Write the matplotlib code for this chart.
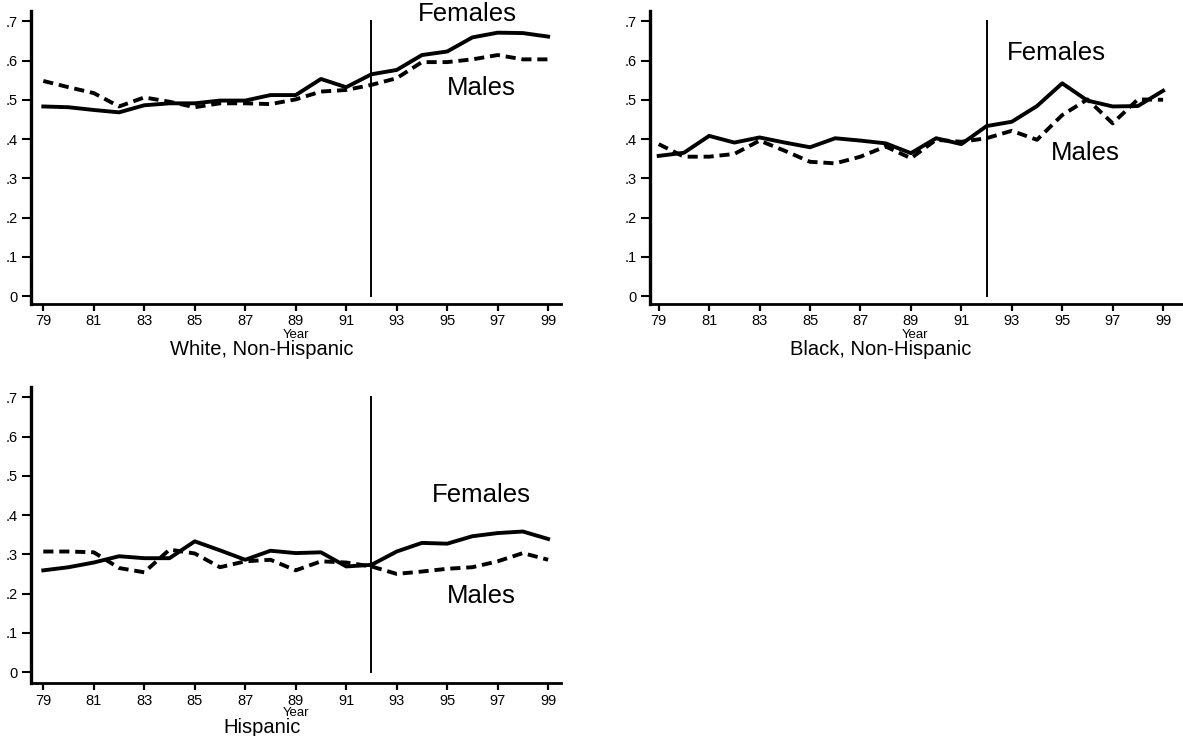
import numpy as np
import matplotlib
matplotlib.use("Agg")
import matplotlib.pyplot as plt

plt.rcParams["font.family"] = ["Liberation Sans", "DejaVu Sans"]

# ------------------------------------------------------------
# Data
# ------------------------------------------------------------
years = list(range(79, 100))
tick_years = list(range(79, 100, 2))
y_ticks = [0, 0.1, 0.2, 0.3, 0.4, 0.5, 0.6, 0.7]
y_tick_labels = ["0", ".1", ".2", ".3", ".4", ".5", ".6", ".7"]
policy_year = 92

white_f = [0.483, 0.481, 0.474, 0.468, 0.486, 0.491, 0.491, 0.498, 0.498, 0.512, 0.512,
           0.553, 0.532, 0.565, 0.576, 0.614, 0.623, 0.659, 0.671, 0.670, 0.661]
white_m = [0.548, 0.532, 0.517, 0.483, 0.506, 0.495, 0.481, 0.491, 0.491, 0.489, 0.501,
           0.521, 0.525, 0.538, 0.555, 0.596, 0.596, 0.603, 0.614, 0.603, 0.603]

black_f = [0.357, 0.365, 0.408, 0.391, 0.404, 0.391, 0.379, 0.402, 0.396, 0.389, 0.364,
           0.402, 0.387, 0.433, 0.444, 0.484, 0.542, 0.498, 0.483, 0.484, 0.523]
black_m = [0.387, 0.355, 0.355, 0.362, 0.396, 0.370, 0.342, 0.338, 0.355, 0.381, 0.351,
           0.398, 0.393, 0.402, 0.421, 0.398, 0.461, 0.501, 0.440, 0.501, 0.500]

hisp_f = [0.259, 0.267, 0.279, 0.295, 0.290, 0.290, 0.333, 0.310, 0.286, 0.309, 0.303,
          0.305, 0.269, 0.273, 0.307, 0.329, 0.327, 0.346, 0.354, 0.358, 0.339]
hisp_m = [0.307, 0.307, 0.305, 0.265, 0.254, 0.312, 0.302, 0.267, 0.282, 0.286, 0.259,
          0.282, 0.279, 0.269, 0.250, 0.256, 0.263, 0.267, 0.282, 0.303, 0.286]

# panel: (caption, females, males, "Females" label pos, "Males" label pos)
panels = [
    ("White, Non-Hispanic", white_f, white_m, (93.85, 0.70), (95.0, 0.512)),
    ("Black, Non-Hispanic", black_f, black_m, (92.8, 0.601), (94.55, 0.347)),
    ("Hispanic", hisp_f, hisp_m, (94.4, 0.433), (95.0, 0.177)),
]

W, H = 1183, 736
fig = plt.figure(figsize=(W / 100, H / 100), dpi=100)

# axes boxes in pixels: left, top, right, bottom spine, zero line, x-limits,
# baseline of "Year", baseline of caption
boxes = [
    (31.2, 10.7, 561, 304, 296, (78.52, 99.51), 338, 355),
    (649.5, 10.7, 1183, 304, 296, (78.635, 99.79), 338, 355),
    (31.2, 386.7, 561, 683.3, 672, (78.52, 99.51), 716, 733),
]

for (title, fem, mal, fpos, mpos), (l, t, r, b, z, xl, yb, cb) in zip(panels, boxes):
    ax = fig.add_axes([l / W, 1 - b / H, (r - l) / W, (b - t) / H])
    px_per_unit = (z - (t + 21.3 - 10.7)) / 0.7
    ax.set_ylim(-(b - z) / px_per_unit, (z - t) / px_per_unit)
    ax.set_xlim(*xl)

    ax.plot(years, fem, color="black", lw=2.8)
    ax.plot(years, mal, color="black", lw=2.8, dashes=(2.6, 1.5))
    ax.plot([policy_year, policy_year], [0, 0.7], color="black", lw=1.4)

    ax.text(fpos[0], fpos[1], "Females", fontsize=18.5, ha="left", va="baseline")
    ax.text(mpos[0], mpos[1], "Males", fontsize=18.5, ha="left", va="baseline")

    for side in ("top", "right"):
        ax.spines[side].set_visible(False)
    ax.spines["left"].set_linewidth(2.4)
    ax.spines["bottom"].set_linewidth(2.0)
    ax.set_xticks(tick_years)
    ax.set_xticklabels([str(y) for y in tick_years])
    ax.set_yticks(y_ticks)
    ax.set_yticklabels(y_tick_labels)
    ax.tick_params(axis="x", direction="out", length=5, width=1.6,
                   labelsize=10.5, pad=2.5)
    ax.tick_params(axis="y", direction="out", length=6.5, width=1.5,
                   labelsize=10.5, pad=3)

    # axis title "Year" and panel caption
    fig.text((l + 265) / W, 1 - yb / H, "Year", fontsize=9.5,
             ha="center", va="baseline")
    fig.text((l + 231) / W, 1 - cb / H, title, fontsize=14.5,
             ha="center", va="baseline")

fig.savefig("out.png", dpi=100)
